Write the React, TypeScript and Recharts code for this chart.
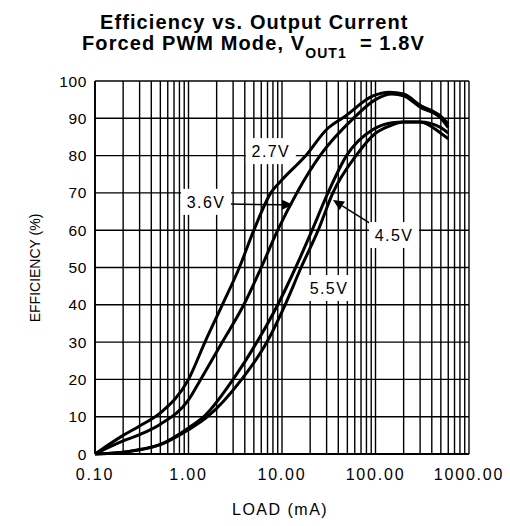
import React from "react"
import { LineChart, Line, XAxis, YAxis, CartesianGrid, ReferenceDot, ReferenceLine } from "recharts"

// load (mA) / efficiency (%) per input voltage
const LOAD_27 = [0.1, 0.2, 0.3, 0.5, 1, 1.5, 2.3, 3.5, 5, 7.6, 10, 18, 30, 47, 94, 140, 200, 300, 500, 600]
const EFF_27 = [0, 5, 7.5, 11, 20, 30, 40, 50, 60, 70, 73.5, 80, 87, 90.5, 96, 97, 96.5, 93.5, 90.5, 88.5]

const LOAD_36 = [0.1, 0.2, 0.3, 0.5, 1, 1.35, 2.3, 3.9, 6, 9, 14.4, 25.5, 58, 100, 150, 200, 300, 500, 600]
const EFF_36 = [0, 3.5, 5.2, 8, 14.5, 20, 30, 40, 50, 60, 70, 80, 90, 95, 96.5, 96, 93, 90, 87.5]

const LOAD_45 = [0.1, 0.2, 0.3, 0.5, 1, 1.5, 3, 5.4, 9, 14, 21, 31, 49, 94, 150, 200, 300, 500, 600]
const EFF_45 = [0, 0.5, 1.2, 2.6, 7, 10.3, 20, 30, 40, 50, 60, 70, 80, 87, 88.8, 89, 89, 87.5, 86]

const LOAD_55 = [0.1, 0.2, 0.3, 0.5, 1, 1.6, 3.7, 6.9, 10.8, 16, 24.4, 35, 62, 100, 143, 200, 300, 500, 600]
const EFF_55 = [0, 0.5, 1.1, 2.5, 6.5, 10, 20, 30, 40, 50, 60, 70, 80, 86, 88, 89, 89, 86, 84.5]

const X_LABEL_TICKS = [0.1, 1, 10, 100, 1000]
const X_MULTIPLES = [1, 2, 3, 4, 5, 6, 7, 8, 9]
const Y_TICKS = [0, 10, 20, 30, 40, 50, 60, 70, 80, 90, 100]

const toPoints = (load: number[], eff: number[]) => load.map((l, i) => ({ load: l, eff: eff[i] }))

const SERIES = [
  { name: "2.7V", data: toPoints(LOAD_27, EFF_27) },
  { name: "3.6V", data: toPoints(LOAD_36, EFF_36) },
  { name: "4.5V", data: toPoints(LOAD_45, EFF_45) },
  { name: "5.5V", data: toPoints(LOAD_55, EFF_55) },
]

// vertical grid: every 1..9 multiple of each decade
const GRID_X = [
  ...X_LABEL_TICKS.slice(0, -1).flatMap((d) => X_MULTIPLES.map((m) => d * m)),
  X_LABEL_TICKS[X_LABEL_TICKS.length - 1],
]

const FONT = "'Liberation Sans', Arial, Helvetica, sans-serif"

const isLabelTick = (v: number) => X_LABEL_TICKS.some((t) => Math.abs(t - v) / t < 1e-6)

function XTick(props: any) {
  const { x, y, payload } = props
  if (!isLabelTick(payload.value)) return null
  return (
    <text x={x} y={y} dy={11.5} textAnchor="middle" fill="#000"
      style={{ fontFamily: FONT, fontSize: 16, letterSpacing: 1.8 }}>
      {payload.value.toFixed(2)}
    </text>
  )
}

function YTick(props: any) {
  const { x, y, payload } = props
  return (
    <text x={x} y={y} dy={5.5} textAnchor="end" fill="#000"
      style={{ fontFamily: FONT, fontSize: 15.5, letterSpacing: 0.6 }}>
      {payload.value}
    </text>
  )
}

const curveTag = (text: string) => (props: any) => {
  const { x, y } = props.viewBox
  return (
    <g>
      <rect x={x - 25} y={y - 13} width={50} height={26} fill="#fff" />
      <text x={x} y={y} dy={6} textAnchor="middle" fill="#000"
        style={{ fontFamily: FONT, fontSize: 16, letterSpacing: 1.4 }}>
        {text}
      </text>
    </g>
  )
}

function Arrow(props: any) {
  const { x1, y1, x2, y2 } = props
  const a = Math.atan2(y2 - y1, x2 - x1)
  const len = 11
  const hw = 5
  const bx = x2 - len * Math.cos(a)
  const by = y2 - len * Math.sin(a)
  const px = -Math.sin(a) * hw
  const py = Math.cos(a) * hw
  return (
    <g>
      <line x1={x1} y1={y1} x2={bx} y2={by} stroke="#000" strokeWidth={1.5} />
      <polygon points={`${x2},${y2} ${bx + px},${by + py} ${bx - px},${by - py}`} fill="#000" />
    </g>
  )
}

export default function App() {
  return (
    <div style={{ position: "relative", width: 502, height: 510 }}>
      <LineChart width={502} height={510} margin={{ top: 73, right: 41, left: 47, bottom: 34 }}>
        <CartesianGrid stroke="#000" strokeWidth={1.4} />
        <XAxis
          dataKey="load"
          type="number"
          scale="log"
          domain={[0.1, 1000]}
          allowDataOverflow
          ticks={GRID_X}
          interval={0}
          tick={<XTick />}
          tickLine={false}
          tickMargin={8}
          height={30}
          axisLine={{ stroke: "#000", strokeWidth: 1.8 }}
        />
        <YAxis
          type="number"
          domain={[0, 100]}
          ticks={Y_TICKS}
          interval={0}
          tick={<YTick />}
          tickLine={false}
          width={40}
          axisLine={{ stroke: "#000", strokeWidth: 1.8 }}
        />
        {SERIES.map((s) => (
          <Line
            key={s.name}
            data={s.data}
            dataKey="eff"
            type="monotone"
            stroke="#000"
            strokeWidth={3}
            dot={false}
            isAnimationActive={false}
          />
        ))}
        <ReferenceDot x={7.6} y={81.2} r={0} fill="none" stroke="none" label={curveTag("2.7V")} />
        <ReferenceDot x={1.54} y={67.6} r={0} fill="none" stroke="none" label={curveTag("3.6V")} />
        <ReferenceDot x={158} y={58.7} r={0} fill="none" stroke="none" label={curveTag("4.5V")} />
        <ReferenceDot x={31.8} y={44.5} r={0} fill="none" stroke="none" label={curveTag("5.5V")} />
        <ReferenceLine segment={[{ x: 2.75, y: 67 }, { x: 13.1, y: 66.8 }]} shape={Arrow} />
        <ReferenceLine segment={[{ x: 89.5, y: 61.7 }, { x: 35.1, y: 68.1 }]} shape={Arrow} />
      </LineChart>
      <svg width={502} height={518} style={{ position: "absolute", left: 0, top: 0, pointerEvents: "none" }}>
        <text x={92} y={21.3} fill="#000" style={{ fontFamily: FONT, fontSize: 20, fontWeight: 700, letterSpacing: 1.1 }}>
          Efficiency vs. Output Current
        </text>
        <text x={74} y={42} fill="#000" style={{ fontFamily: FONT, fontSize: 20, fontWeight: 700, letterSpacing: 1.1 }}>
          Forced PWM Mode, V
          <tspan dy={8} style={{ fontSize: 14 }}>OUT1</tspan>
          <tspan dy={-8} dx={13}>= 1.8V</tspan>
        </text>
        <text x={32} y={260} textAnchor="middle" transform="rotate(-90, 32, 260)" fill="#000"
          style={{ fontFamily: FONT, fontSize: 14 }}>
          EFFICIENCY (%)
        </text>
        <text x={224} y={507} fill="#000" style={{ fontFamily: FONT, fontSize: 16, letterSpacing: 1.5 }}>
          LOAD (mA)
        </text>
      </svg>
    </div>
  )
}
